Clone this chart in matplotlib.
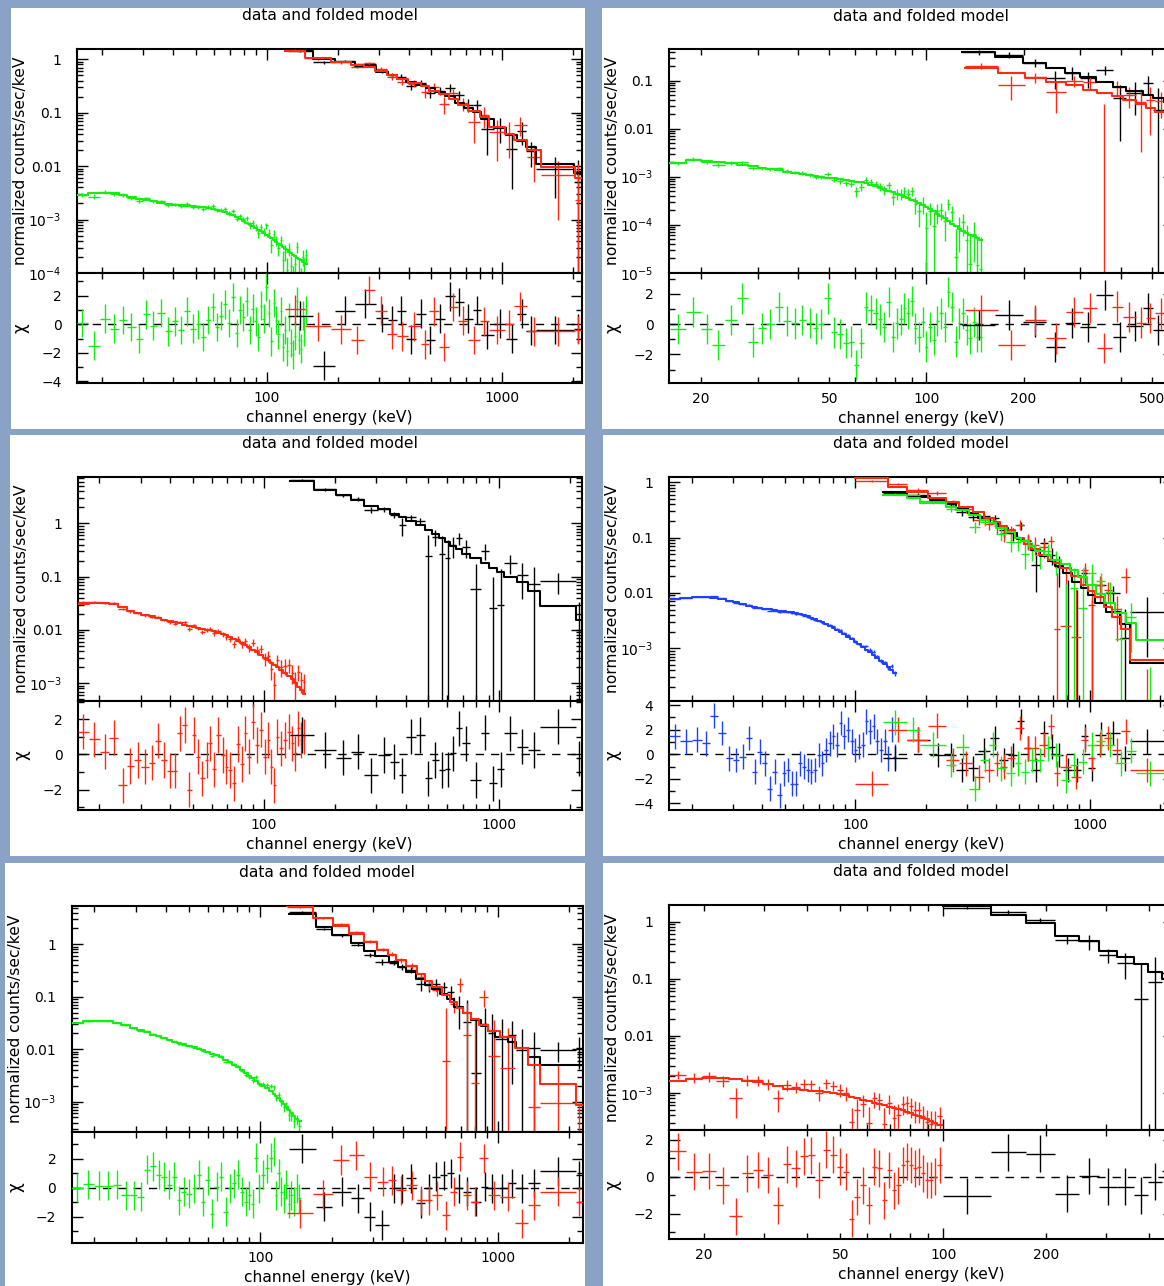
import numpy as np
import matplotlib
matplotlib.use("Agg")
import matplotlib.pyplot as plt
from matplotlib.collections import LineCollection
from matplotlib.patches import Rectangle
from matplotlib.ticker import (LogLocator, FuncFormatter, MultipleLocator,
                               NullFormatter)

# ---------------------------------------------------------------------------
# Spectral data: channel edges (keV), folded model (counts/s/keV),
# residuals in sigma (chi) and fractional 1-sigma error (sig = err / model)
# ---------------------------------------------------------------------------

# ----- panel 1 (top left) -----
tl_nai_edges = [15.7, 17.4, 19.6, 21.6, 23.6, 25.6, 27.9, 29.9, 31.9, 34.4, 37.0, 39.6, 42.0, 44.5,
                47.2, 50.0, 52.6, 55.2, 57.9, 60.5, 63.0, 65.6, 68.2, 70.7, 73.3, 75.8, 78.4, 81.0,
                83.5, 86.0, 88.5, 91.0, 93.5, 96.0, 98.5, 101.0, 103.5, 106.0, 108.5, 111.0, 113.5,
                116.0, 118.5, 121.0, 123.5, 126.0, 128.5, 131.0, 133.5, 136.0, 138.5, 141.0, 143.5,
                146.0, 148.5]
tl_nai_model = [2.9e-3, 3.1e-3, 3.2e-3, 3.1e-3, 2.85e-3, 2.6e-3, 2.45e-3, 2.35e-3, 2.2e-3, 2.05e-3,
                1.95e-3, 1.9e-3, 1.86e-3, 1.82e-3, 1.77e-3, 1.73e-3, 1.69e-3, 1.65e-3, 1.6e-3, 1.53e-3,
                1.45e-3, 1.37e-3, 1.29e-3, 1.2e-3, 1.12e-3, 1.03e-3, 9.5e-4, 8.8e-4, 8.2e-4, 7.6e-4,
                7.0e-4, 6.5e-4, 6.0e-4, 5.6e-4, 5.2e-4, 4.8e-4, 4.45e-4, 4.1e-4, 3.8e-4, 3.55e-4,
                3.3e-4, 3.05e-4, 2.85e-4, 2.65e-4, 2.48e-4, 2.32e-4, 2.18e-4, 2.05e-4, 1.93e-4,
                1.82e-4, 1.72e-4, 1.63e-4, 1.55e-4, 1.48e-4]
tl_nai_chi = [0.1, -1.5, 0.4, -0.3, 0.3, -0.2, -1.0, 0.7, -0.1, 0.8, -0.5, 0.2, -0.4, 0.9, -0.3, 0.0,
              -0.9, 0.3, 1.2, -0.2, 0.6, 1.4, 0.1, 1.9, -0.6, 1.0, 0.5, 1.6, -0.4, 1.1, 0.2, -0.9, 1.3,
              0.4, 2.6, 0.8, -1.2, 1.5, 0.3, -0.7, 0.9, -1.6, -0.4, -1.9, 0.5, -1.3, -2.1, -0.8, 1.6,
              -1.1, -1.7, 0.6, -0.5, 1.0]
tl_nai_sig = [0.09, 0.09, 0.08, 0.08, 0.08, 0.08, 0.08, 0.08, 0.08, 0.08, 0.08, 0.08, 0.08, 0.08,
              0.08, 0.08, 0.08, 0.09, 0.09, 0.09, 0.10, 0.10, 0.10, 0.11, 0.11, 0.12, 0.12, 0.13,
              0.13, 0.14, 0.15, 0.16, 0.17, 0.18, 0.19, 0.20, 0.21, 0.22, 0.23, 0.25, 0.26, 0.27,
              0.29, 0.30, 0.31, 0.33, 0.34, 0.35, 0.37, 0.38, 0.40, 0.41, 0.42, 0.44]

tl_b0_edges = [123.1, 157.1, 194.9, 236.7, 290.0, 326.9, 357.2, 390.0, 429.8, 473.6, 517.4, 570.1,
               628.3, 686.6, 750.3, 811.0, 917.8, 1038.6, 1155.5, 1264.3, 1393.5, 2012.0, 2155.0]
tl_b0_model = [1.42, 1.02, 0.88, 0.74, 0.59, 0.5, 0.43, 0.37, 0.33, 0.285, 0.24, 0.205, 0.155, 0.125,
               0.102, 0.075, 0.052, 0.038, 0.03, 0.023, 0.0112, 0.0075]
tl_b0_chi = [0.6, -2.9, 0.95, 1.45, 0.45, 0.3, 0.95, -1.05, 0.75, -1.1, 0.4, 1.95, 1.55, 0.4, 1.0,
             -0.75, 0.05, -1.0, 0.75, -0.45, -0.4, -0.3]
tl_b0_sig = [0.04, 0.05, 0.06, 0.07, 0.08, 0.10, 0.11, 0.13, 0.14, 0.16, 0.19, 0.22, 0.25, 0.3, 0.35,
             0.45, 0.5, 0.45, 0.7, 0.4, 0.55, 1.1]

tl_b1_edges = [119.6, 145.3, 187.3, 227.8, 258.6, 287.9, 323.8, 357.0, 397.4, 451.2, 487.9, 538.0,
               593.2, 647.7, 714.1, 802.9, 876.5, 1024.7, 1119.1, 1270.3, 1456.8, 2030.0, 2175.0]
tl_b1_model = [1.45, 1.05, 0.9, 0.79, 0.71, 0.6, 0.5, 0.42, 0.36, 0.31, 0.26, 0.225, 0.18, 0.14,
               0.11, 0.082, 0.055, 0.04, 0.031, 0.02, 0.0098, 0.0059]
tl_b1_chi = [1.05, -0.15, -0.35, -1.1, 2.4, 0.95, -0.7, -0.85, -0.15, -1.4, 0.9, -1.6, 1.2, 0.25,
             -1.1, 0.2, -0.4, 0.0, 1.25, -0.5, -0.5, -0.4]
tl_b1_sig = [0.04, 0.05, 0.06, 0.07, 0.08, 0.09, 0.1, 0.12, 0.14, 0.16, 0.19, 0.22, 0.26, 0.3, 0.36,
             0.45, 0.55, 0.65, 0.75, 0.5, 0.6, 1.5]

# ----- panel 2 (top right) -----
tr_nai_edges = [16.0, 18.0, 20.0, 21.7, 23.7, 25.8, 27.9, 30.0, 31.8, 33.9, 36.0, 38.1, 40.2, 42.4,
                44.6, 46.3, 48.3, 50.7, 53.0, 55.2, 57.4, 59.6, 61.7, 63.9, 66.1, 68.5, 71.0, 73.1,
                75.2, 77.5, 79.9, 82.2, 84.4, 86.6, 88.9, 91.3, 93.7, 96.2, 98.7, 101.3, 104.0,
                106.8, 109.6, 112.5, 115.5, 118.5, 121.6, 124.9, 128.2, 131.6, 135.0, 138.6, 142.2,
                145.7, 149.0]
tr_nai_model = [1.95e-3, 2.2e-3, 2.1e-3, 2.0e-3, 1.9e-3, 1.78e-3, 1.65e-3, 1.52e-3, 1.42e-3, 1.35e-3,
                1.28e-3, 1.22e-3, 1.15e-3, 1.08e-3, 1.03e-3, 9.9e-4, 9.5e-4, 9.2e-4, 8.9e-4, 8.6e-4,
                8.3e-4, 7.9e-4, 7.6e-4, 7.3e-4, 6.8e-4, 6.3e-4, 5.9e-4, 5.5e-4, 5.0e-4, 4.7e-4,
                4.4e-4, 4.1e-4, 3.8e-4, 3.55e-4, 3.3e-4, 3.05e-4, 2.8e-4, 2.55e-4, 2.3e-4, 2.1e-4,
                1.9e-4, 1.7e-4, 1.5e-4, 1.35e-4, 1.2e-4, 1.05e-4, 9.2e-5, 8.2e-5, 7.4e-5, 6.8e-5,
                6.2e-5, 5.7e-5, 5.2e-5, 4.8e-5]
tr_nai_chi = [-0.33, 0.81, -0.33, -1.38, 0.26, 1.69, -1.16, -0.29, 0.0, 1.14, 0.22, 0.04, 0.26, 0.09,
              -0.29, 0.0, 1.69, -0.55, -0.65, -1.27, -1.16, -2.7, -1.27, 1.1, 0.92, 0.7, 0.31, -0.18,
              1.47, -0.84, 0.04, 0.31, 1.03, 0.7, 1.54, -0.29, -0.84, 0.15, -1.49, -0.18, -1.05,
              0.22, 0.7, -0.18, 2.13, 1.14, -1.16, 0.04, 0.7, -0.4, -0.95, 0.15, -0.84, -0.84]
tr_nai_sig = [0.08, 0.08, 0.08, 0.08, 0.08, 0.08, 0.08, 0.08, 0.09, 0.09, 0.09, 0.09, 0.1, 0.1, 0.1,
              0.1, 0.11, 0.11, 0.12, 0.12, 0.13, 0.14, 0.15, 0.16, 0.17, 0.18, 0.19, 0.2, 0.22, 0.24,
              0.25, 0.27, 0.29, 0.31, 0.33, 0.35, 0.37, 0.4, 0.42, 0.45, 0.48, 0.5, 0.53, 0.56, 0.6,
              0.63, 0.66, 0.7, 0.73, 0.76, 0.8, 0.83, 0.86, 0.9]

tr_b0_edges = [129.3, 162.7, 199.1, 235.2, 268.1, 298.3, 336.0, 378.2, 416.2, 468.4, 502.9, 545.0,
               584.0]
tr_b0_model = [0.40, 0.316, 0.23, 0.18, 0.143, 0.12, 0.095, 0.075, 0.062, 0.05, 0.043, 0.036]
tr_b0_chi = [-0.05, 0.6, 0.15, -1.5, 0.05, -0.2, 1.9, -0.85, -0.15, 1.05, -0.4, 0.3]
tr_b0_sig = [0.12, 0.15, 0.2, 0.25, 0.3, 0.35, 0.4, 0.5, 0.6, 0.75, 1.1, 1.2]

tr_b1_edges = [131.4, 166.7, 201.5, 235.2, 271.3, 304.8, 337.1, 375.1, 405.3, 445.3, 478.2, 509.9,
               555.4]
tr_b1_model = [0.18, 0.143, 0.112, 0.095, 0.08, 0.065, 0.055, 0.047, 0.04, 0.032, 0.027, 0.0226]
tr_b1_chi = [0.95, -1.4, 0.25, -0.95, 0.8, 1.05, -1.6, 1.15, 0.45, 0.1, 0.4, 0.7]
tr_b1_sig = [0.15, 0.3, 0.25, 0.4, 0.3, 0.45, 0.7, 0.5, 0.6, 1.0, 1.2, 0.9]

# ----- panel 3 (middle left) -----
ml_nai_edges = [16.2, 18.1, 20.1, 22.1, 24.1, 26.2, 28.1, 30.2, 32.4, 34.6, 36.6, 38.7, 41.0, 42.9,
                45.0, 47.1, 49.3, 51.4, 53.7, 56.0, 58.2, 60.4, 62.9, 65.5, 68.1, 70.7, 73.3, 76.1,
                79.0, 82.0, 85.2, 88.4, 91.8, 95.3, 98.9, 102.7, 106.2, 109.0, 112.2, 116.2, 120.6,
                125.2, 130.1, 134.2, 138.0, 142.3, 146.3, 150.0]
ml_nai_model = [0.031, 0.032, 0.032, 0.031, 0.027, 0.023, 0.021, 0.0195, 0.018, 0.0167, 0.0157,
                0.0147, 0.014, 0.0133, 0.0126, 0.012, 0.0114, 0.0109, 0.0105, 0.0102, 0.0099, 0.0094,
                0.0089, 0.0084, 0.0079, 0.0074, 0.0068, 0.0063, 0.0058, 0.0053, 0.0048, 0.0043,
                0.0038, 0.0034, 0.003, 0.0027, 0.0024, 0.0022, 0.0020, 0.00178, 0.00158, 0.00138,
                0.00118, 0.00101, 0.00087, 0.00074, 0.00063]
ml_nai_chi = [1.29, 0.85, 0.15, 0.95, -1.75, -0.66, -0.32, -0.7, -0.47, 0.78, -0.32, -0.93, -0.93,
              1.2, 1.67, -2.0, 1.1, -0.13, -1.37, -0.32, 0.63, -0.85, 1.1, -0.04, -0.7, -0.89, -1.65,
              0.59, -0.55, 1.2, -0.13, 1.86, 0.53, 1.39, -0.13, 0.82, -0.7, -1.75, 1.0, 0.34, 0.82,
              1.29, 0.63, 0.06, 1.48, 0.82, 1.0]
ml_nai_sig = [0.05, 0.05, 0.05, 0.05, 0.05, 0.05, 0.05, 0.05, 0.05, 0.06, 0.06, 0.06, 0.06, 0.06,
              0.07, 0.07, 0.07, 0.07, 0.08, 0.08, 0.08, 0.09, 0.09, 0.1, 0.1, 0.11, 0.12, 0.13, 0.14,
              0.15, 0.17, 0.19, 0.21, 0.23, 0.25, 0.28, 0.3, 0.33, 0.36, 0.4, 0.44, 0.48, 0.52, 0.56,
              0.6, 0.65, 0.7]

ml_bgo_edges = [128.6, 164.1, 202.2, 234.9, 267.3, 305.0, 343.0, 374.6, 401.1, 442.3, 483.0, 517.2,
                553.9, 587.4, 619.8, 657.3, 693.6, 753.9, 835.3, 907.8, 981.5, 1045.9, 1187.8,
                1322.7, 1482.0, 2116.0, 2239.0]
ml_bgo_model = [6.2, 4.3, 3.4, 2.8, 2.1, 1.83, 1.5, 1.3, 1.12, 0.92, 0.75, 0.62, 0.54, 0.45, 0.38,
                0.33, 0.27, 0.22, 0.178, 0.148, 0.125, 0.1, 0.078, 0.055, 0.028, 0.0153]
ml_bgo_chi = [1.1, 0.25, -0.19, 0.15, -1.18, -0.04, -0.42, -1.18, 1.0, 1.1, -1.37, -0.32, -0.89,
              -0.85, 0.06, 1.48, 0.63, -1.46, 1.23, -1.65, -0.85, 1.2, 0.44, 0.25, 1.57, -0.23]
ml_bgo_sig = [0.05, 0.06, 0.07, 0.08, 0.12, 0.1, 0.12, 0.25, 0.15, 0.18, 0.49, 0.3, 0.56, 0.6, 0.45,
              0.4, 0.5, 0.5, 0.6, 0.5, 0.9, 0.7, 0.9, 1.4, 1.25, 1.5]

# ----- panel 4 (middle right) -----
mr_nai_edges = [16.0, 17.9, 20.0, 22.1, 24.0, 26.0, 28.0, 29.9, 32.0, 34.1, 36.2, 38.2, 40.1, 42.1,
                44.2, 46.4, 48.5, 50.5, 52.5, 54.6, 57.0, 59.3, 61.5, 63.7, 66.1, 68.5, 71.0, 73.6,
                76.3, 79.1, 82.0, 85.0, 88.1, 91.4, 94.7, 98.2, 101.8, 105.5, 109.5, 113.4, 117.5,
                121.8, 126.3, 131.0, 135.8, 140.7, 145.4, 149.5]
mr_nai_model = [7.6e-3, 8.0e-3, 8.3e-3, 8.3e-3, 8.1e-3, 7.7e-3, 7.2e-3, 6.7e-3, 6.3e-3, 5.9e-3,
                5.6e-3, 5.4e-3, 5.2e-3, 5.05e-3, 4.9e-3, 4.8e-3, 4.7e-3, 4.6e-3, 4.5e-3, 4.35e-3,
                4.15e-3, 3.95e-3, 3.75e-3, 3.55e-3, 3.35e-3, 3.15e-3, 2.95e-3, 2.75e-3, 2.55e-3,
                2.35e-3, 2.15e-3, 1.95e-3, 1.77e-3, 1.6e-3, 1.44e-3, 1.3e-3, 1.17e-3, 1.05e-3,
                9.4e-4, 8.4e-4, 7.5e-4, 6.6e-4, 5.8e-4, 5.1e-4, 4.5e-4, 4.0e-4, 3.6e-4]
mr_nai_chi = [1.45, 1.04, 1.18, 0.9, 3.15, 1.73, -0.33, -0.47, -0.19, 1.32, -1.42, 0.22, -0.74,
              -2.79, -1.42, -3.34, -1.56, -1.29, -2.38, -2.38, -0.74, -1.01, -1.29, -1.42, -1.29,
              -0.05, -0.74, 0.36, 0.9, 1.45, 0.77, 2.55, 1.45, 2.0, 1.04, 0.36, 0.63, 0.77, 2.68,
              1.86, 2.27, 1.04, 0.36, 1.04, -0.33, 2.0, -0.19]
mr_nai_sig = [0.02, 0.02, 0.02, 0.02, 0.02, 0.02, 0.02, 0.02, 0.02, 0.02, 0.02, 0.02, 0.02, 0.02,
              0.02, 0.02, 0.02, 0.02, 0.02, 0.025, 0.025, 0.025, 0.025, 0.025, 0.03, 0.03, 0.03,
              0.03, 0.035, 0.035, 0.035, 0.04, 0.04, 0.045, 0.045, 0.05, 0.05, 0.055, 0.06, 0.065,
              0.07, 0.075, 0.08, 0.085, 0.09, 0.1, 0.11]

mr_b0_edges = [130.9, 165.4, 208.2, 243.8, 268.9, 302.5, 333.8, 375.6, 410.4, 448.4, 489.8, 524.8,
               562.2, 614.3, 664.4, 711.9, 770.0, 841.2, 918.9, 984.5, 1054.6, 1174.9, 1348.3,
               1487.9, 2078.0, 2286.0]
mr_b0_model = [0.66, 0.55, 0.47, 0.4, 0.34, 0.28, 0.23, 0.18, 0.15, 0.12, 0.095, 0.075, 0.06, 0.047,
               0.038, 0.03, 0.023, 0.016, 0.012, 0.009, 0.0065, 0.0045, 0.0027, 0.00054, 0.00054]
mr_b0_chi = [-0.33, 1.18, -0.05, -0.05, -1.29, -1.15, 0.3, 1.32, -0.47, -0.05, 2.68, 0.49, -1.29,
             1.73, 0.63, -0.05, -1.29, -1.29, 1.45, -1.15, 1.59, 1.73, -0.33, 1.04, 0.0]
mr_b0_sig = [0.05, 0.07, 0.09, 0.1, 0.12, 0.14, 0.16, 0.19, 0.22, 0.25, 0.28, 0.32, 0.36, 0.4, 0.45,
             0.55, 0.9, 1.0, 0.6, 1.1, 0.7, 0.7, 1.3, 7.0, 1.0]

mr_b1_edges = [100.0, 138.2, 166.1, 204.2, 243.8, 277.0, 317.8, 354.1, 390.7, 414.4, 443.9, 480.3,
               524.8, 562.2, 608.1, 664.4, 704.7, 747.5, 832.9, 918.9, 984.5, 1054.6, 1151.9,
               1246.0, 1361.7, 1487.9, 2078.0, 2286.0]
mr_b1_model = [1.18, 0.83, 0.66, 0.52, 0.44, 0.36, 0.29, 0.23, 0.19, 0.165, 0.135, 0.1, 0.075,
               0.062, 0.048, 0.04, 0.035, 0.028, 0.02, 0.014, 0.011, 0.0085, 0.0055, 0.0037, 0.0022,
               0.00061, 0.00061]
mr_b1_chi = [-2.38, 2.0, 1.18, 2.33, -0.47, -0.74, -1.84, -1.29, -0.74, -1.01, -0.33, 2.14, 0.49,
             0.49, 0.77, 2.27, -1.56, -1.01, -1.84, 1.18, -0.33, 0.77, 1.32, 0.36, 1.86, -1.29, 0.0]
mr_b1_sig = [0.04, 0.06, 0.08, 0.1, 0.12, 0.13, 0.15, 0.18, 0.22, 0.25, 0.3, 0.33, 0.38, 0.42, 0.5,
             0.5, 0.6, 0.9, 0.5, 0.7, 1.4, 0.8, 0.8, 1.0, 4.2, 1.1, 1.0]

mr_b2_edges = [130.9, 165.4, 188.7, 243.8, 268.9, 305.5, 340.4, 371.9, 398.5, 439.6, 480.3, 509.5,
               551.3, 584.7, 638.8, 684.3, 755.0, 824.8, 892.2, 975.0, 1065.1, 1163.5, 1283.6,
               1430.3, 1578.6, 2078.0, 2286.0]
mr_b2_model = [0.59, 0.51, 0.42, 0.36, 0.31, 0.26, 0.21, 0.18, 0.15, 0.125, 0.1, 0.085, 0.07, 0.058,
               0.048, 0.04, 0.033, 0.026, 0.019, 0.014, 0.0095, 0.0065, 0.0043, 0.0028, 0.0014,
               0.0014]
mr_b2_chi = [2.6, 2.0, 0.77, -0.88, 0.63, -2.79, -0.47, 0.77, -1.15, -1.56, -0.74, -1.42, -0.47,
             -0.47, 0.49, -0.05, -2.11, -0.88, -0.6, 0.77, 1.04, 0.77, -0.74, 0.3, -1.56, 0.0]
mr_b2_sig = [0.05, 0.07, 0.09, 0.1, 0.12, 0.14, 0.16, 0.18, 0.2, 0.22, 0.25, 0.28, 0.32, 0.36, 0.4,
             0.45, 0.5, 0.6, 1.2, 0.8, 0.7, 0.8, 0.9, 1.0, 1.2, 1.0]

# ----- panel 5 (bottom left) -----
bl_nai_edges = [16.0, 17.9, 19.9, 21.9, 23.9, 26.0, 28.3, 30.4, 32.4, 34.4, 36.4, 38.3, 40.3, 42.4,
                44.4, 46.5, 48.9, 51.5, 54.0, 56.2, 58.6, 61.4, 64.1, 66.9, 70.0, 73.0, 76.0, 79.1,
                82.1, 85.3, 88.5, 91.5, 94.2, 97.4, 101.2, 105.0, 109.0, 112.7, 115.6, 118.2, 121.1,
                124.3, 127.4, 130.4, 133.8, 137.1, 140.5, 144.2, 148.0]
bl_nai_model = [0.032, 0.034, 0.035, 0.034, 0.032, 0.029, 0.0255, 0.023, 0.021, 0.0188, 0.0175,
                0.0163, 0.0148, 0.0138, 0.0131, 0.0124, 0.0115, 0.0108, 0.0102, 0.0095, 0.0088,
                0.0082, 0.0076, 0.007, 0.0063, 0.0057, 0.0051, 0.0045, 0.004, 0.0035, 0.0031,
                0.0028, 0.0025, 0.0022, 0.0020, 0.0018, 0.0016, 0.00142, 0.00128, 0.00116, 0.00103,
                0.00091, 0.0008, 0.0007, 0.00061, 0.00053, 0.00047, 0.00042]
bl_nai_chi = [0.0, 0.23, 0.12, 0.12, 0.19, -0.51, -0.51, -0.63, 1.23, 1.47, 0.88, 0.77, 0.19, 0.77,
              -0.86, -0.28, -0.4, -0.05, 0.88, -0.98, 0.53, -1.79, 0.07, 0.77, -1.67, -0.05, 0.3,
              0.88, -0.28, -0.98, -0.51, -1.09, 2.05, -0.05, 0.88, 1.35, 2.05, 2.51, -0.51, 1.0,
              -0.28, -0.74, 0.19, -1.09, -0.51, -0.98, -0.05, -0.74]
bl_nai_sig = [0.03, 0.03, 0.03, 0.03, 0.03, 0.03, 0.03, 0.03, 0.03, 0.03, 0.03, 0.03, 0.03, 0.035,
              0.035, 0.035, 0.035, 0.04, 0.04, 0.04, 0.04, 0.045, 0.045, 0.05, 0.05, 0.055, 0.06,
              0.065, 0.07, 0.075, 0.08, 0.085, 0.09, 0.095, 0.1, 0.11, 0.12, 0.13, 0.14, 0.15, 0.16,
              0.17, 0.18, 0.19, 0.2, 0.21, 0.22, 0.24]

bl_b0_edges = [132.3, 171.0, 200.7, 241.3, 274.6, 304.6, 349.0, 380.8, 411.5, 453.5, 495.0, 529.7,
               572.6, 612.9, 655.8, 715.4, 773.2, 852.1, 912.6, 976.1, 1107.6, 1196.6, 1345.9,
               1504.6, 2141.8, 2280.0]
bl_b0_model = [3.78, 2.1, 1.5, 1.04, 0.75, 0.6, 0.45, 0.37, 0.3, 0.22, 0.17, 0.14, 0.115, 0.09,
               0.065, 0.048, 0.036, 0.028, 0.022, 0.017, 0.0135, 0.0105, 0.0072, 0.005, 0.005]
bl_b0_chi = [2.67, -1.31, -0.28, -0.74, -2.0, -2.57, -0.05, -0.05, 0.64, -1.08, -0.05, 0.76, 0.87,
             0.99, -0.05, -0.28, -0.97, 0.07, -0.05, -0.05, 0.3, -0.05, 0.3, 1.15, 0.87]
bl_b0_sig = [0.04, 0.05, 0.06, 0.07, 0.08, 0.09, 0.1, 0.12, 0.14, 0.2, 0.25, 0.3, 0.35, 0.4, 0.6,
             1.1, 0.93, 1.1, 1.2, 1.3, 1.2, 1.4, 1.5, 0.8, 1.3]

bl_b1_edges = [129.7, 166.9, 202.7, 236.7, 272.8, 310.6, 346.9, 373.6, 411.5, 458.0, 495.0, 529.7,
               583.6, 630.6, 677.0, 715.4, 773.2, 835.6, 912.6, 1024.5, 1184.8, 1345.9, 1504.6,
               2141.8, 2280.0]
bl_b1_model = [5.3, 3.2, 2.23, 1.57, 1.09, 0.78, 0.63, 0.5, 0.38, 0.27, 0.2, 0.15, 0.11, 0.08, 0.06,
               0.048, 0.038, 0.029, 0.022, 0.0174, 0.0107, 0.005, 0.00216, 0.00087]
bl_b1_chi = [-1.77, -0.46, 1.91, 2.25, 0.76, 0.41, 0.53, -0.16, 0.18, -0.85, -0.85, -0.51, -1.89,
             -0.28, 2.14, -0.51, -0.97, 2.02, -0.51, -0.62, -2.46, -1.2, -0.28, -0.97]
bl_b1_sig = [0.03, 0.04, 0.05, 0.05, 0.06, 0.07, 0.08, 0.1, 0.12, 0.14, 0.17, 0.2, 0.5, 0.3, 0.9,
             1.2, 0.97, 1.2, 1.3, 1.2, 0.75, 0.7, 2.0, 1.2]

# ----- panel 6 (bottom right) -----
br_nai_edges = [15.8, 17.7, 19.7, 21.6, 23.7, 25.8, 27.7, 29.7, 31.7, 33.9, 36.0, 38.1, 40.2, 42.2,
                44.4, 46.6, 48.9, 51.0, 53.0, 55.0, 57.1, 59.4, 61.8, 64.0, 66.2, 68.5, 70.6, 72.8,
                75.1, 77.2, 79.2, 81.4, 83.6, 86.0, 88.4, 90.8, 93.3, 96.0, 99.5]
br_nai_model = [1.6e-3, 1.75e-3, 1.82e-3, 1.8e-3, 1.72e-3, 1.63e-3, 1.52e-3, 1.42e-3, 1.3e-3,
                1.18e-3, 1.15e-3, 1.12e-3, 1.09e-3, 1.06e-3, 1.03e-3, 1.0e-3, 9.6e-4, 9.1e-4,
                8.5e-4, 8.0e-4, 7.6e-4, 7.1e-4, 6.6e-4, 6.3e-4, 6.0e-4, 5.7e-4, 5.4e-4, 5.2e-4,
                4.9e-4, 4.65e-4, 4.4e-4, 4.1e-4, 3.85e-4, 3.6e-4, 3.4e-4, 3.2e-4, 3.0e-4, 2.75e-4]
br_nai_chi = [1.38, 0.28, 0.31, -0.46, -2.15, 0.18, 0.37, 0.09, -1.56, 0.68, 0.46, 1.1, 1.16, -0.18,
              1.47, 1.19, 0.55, 0.28, -2.29, -1.1, -0.46, -1.56, 0.55, 0.46, -1.28, 0.37, -0.73,
              -0.46, 0.64, 0.83, 0.64, 0.46, 0.55, 0.18, -0.18, -0.18, 0.0, 0.64]
br_nai_sig = [0.2, 0.2, 0.2, 0.2, 0.25, 0.22, 0.22, 0.22, 0.25, 0.25, 0.25, 0.25, 0.26, 0.27, 0.28,
              0.28, 0.3, 0.3, 0.28, 0.35, 0.35, 0.37, 0.38, 0.4, 0.42, 0.42, 0.45, 0.45, 0.47, 0.48,
              0.5, 0.5, 0.52, 0.54, 0.56, 0.58, 0.6, 0.62]

br_bgo_edges = [100.0, 137.8, 174.2, 212.1, 248.8, 285.1, 322.5, 360.4, 397.9, 435.5, 473.0]
br_bgo_model = [1.85, 1.3, 0.95, 0.55, 0.45, 0.3, 0.24, 0.18, 0.13, 0.1]
br_bgo_chi = [-1.05, 1.32, 1.25, -0.92, 0.04, -0.55, -0.55, -1.0, -0.28, 0.3]
br_bgo_sig = [0.05, 0.09, 0.1, 0.14, 0.3, 0.24, 0.38, 0.76, 1.2, 0.8]

# ---------------------------------------------------------------------------
# Styling
# ---------------------------------------------------------------------------
W, H = 1164, 1286
plt.rcParams['font.family'] = ['DejaVu Sans']
plt.rcParams['mathtext.fontset'] = 'dejavusans'
FS = 11.2          # titles and axis labels
TICK_FS = 10.0     # tick labels
GREEN = '#12ee12'
RED = '#ff2a12'
BLUE = '#2040ff'
BLACK = '#000000'
BACKGROUND = '#8ba2c7'
LW_DATA = 1.0
LW_MODEL = 1.5

fig = plt.figure(figsize=(W / 100, H / 100), dpi=100)
fig.patch.set_facecolor(BACKGROUND)


def fig_rect(x0, y0, x1, y1):
    """Pixel box (origin top-left) -> figure fraction [l, b, w, h]."""
    return [x0 / W, 1 - y1 / H, (x1 - x0) / W, (y1 - y0) / H]


def white_box(x0, y0, x1, y1):
    l, b, w, h = fig_rect(x0, y0, x1, y1)
    fig.add_artist(Rectangle((l, b), w, h, transform=fig.transFigure,
                             facecolor='white', edgecolor='none', zorder=-5))


def log_label(v, pos):
    if v >= 0.01:
        return f'{v:g}'
    return r'$10^{%d}$' % int(round(np.log10(v)))


def draw_group(ax, rx, edges, model, chi, sig, color):
    e = np.asarray(edges, float)
    m = np.asarray(model, float)
    c = np.asarray(chi, float)
    s = np.asarray(sig, float)
    lo, hi = e[:-1], e[1:]
    mid = np.sqrt(lo * hi)
    err = s * m
    flux = m + c * err
    floor = ax.get_ylim()[0] * 1e-3
    segs = []
    for l, h, x, f, d in zip(lo, hi, mid, flux, err):
        if f > 0:
            segs.append([(l, f), (h, f)])
        if f + d > 0:
            segs.append([(x, max(f - d, floor)), (x, f + d)])
    ax.add_collection(LineCollection(segs, colors=color, linewidths=LW_DATA, zorder=3))
    ax.step(e, np.append(m, m[-1]), where='post', color=color, lw=LW_MODEL, zorder=4)
    rsegs = []
    for l, h, x, v in zip(lo, hi, mid, c):
        rsegs.append([(l, v), (h, v)])
        rsegs.append([(x, v - 1), (x, v + 1)])
    rx.add_collection(LineCollection(rsegs, colors=color, linewidths=LW_DATA, zorder=3))


def panel(box, frame, xlim, ylim, rlim, groups, narrow):
    white_box(*box)
    x0, x1, yt, ys, yb = frame
    ax = fig.add_axes(fig_rect(x0, yt, x1, ys))
    rx = fig.add_axes(fig_rect(x0, ys, x1, yb))
    for a in (ax, rx):
        a.set_xscale('log')
        a.set_xlim(*xlim)
        for sp in a.spines.values():
            sp.set_linewidth(1.5)
        a.tick_params(which='both', direction='in', top=True, right=True,
                      labelsize=TICK_FS, width=1.0)
        a.tick_params(which='major', length=8)
        a.tick_params(which='minor', length=4)
        a.xaxis.set_major_locator(LogLocator(base=10, numticks=20))
        a.xaxis.set_minor_locator(LogLocator(base=10, subs=np.arange(2, 10), numticks=50))
    ax.set_yscale('log')
    ax.set_ylim(*ylim)
    rx.set_ylim(*rlim)

    ax.yaxis.set_major_locator(LogLocator(base=10, numticks=20))
    ax.yaxis.set_minor_locator(LogLocator(base=10, subs=np.arange(2, 10), numticks=50))
    ax.yaxis.set_major_formatter(FuncFormatter(log_label))
    ax.yaxis.set_minor_formatter(NullFormatter())
    ax.tick_params(axis='x', which='both', labelbottom=False)
    ax.tick_params(axis='y', which='both', pad=11)

    rx.yaxis.set_major_locator(MultipleLocator(2))
    rx.yaxis.set_minor_locator(MultipleLocator(1))
    rx.tick_params(axis='y', which='both', pad=11)
    rx.tick_params(axis='x', which='both', pad=6)
    rx.xaxis.set_major_formatter(FuncFormatter(lambda v, p: f'{v:g}'))
    if narrow:
        def minor_lab(v, p):
            lead = int(round(v / 10 ** np.floor(np.log10(v) + 1e-9)))
            return f'{int(round(v))}' if lead in (2, 5) else ''
        rx.xaxis.set_minor_formatter(FuncFormatter(minor_lab))
    else:
        rx.xaxis.set_minor_formatter(NullFormatter())

    rx.axhline(0, color=BLACK, lw=1.0, dashes=(6, 5), zorder=1)
    for g in groups:
        draw_group(ax, rx, *g)
    ax.set_ylim(*ylim)
    rx.set_ylim(*rlim)

    cx = (x0 + x1) / 2 / W
    fig.text(cx, 1 - (yt - 33) / H, 'data and folded model', ha='center', va='center', fontsize=FS)
    fig.text(cx, 1 - (yb + 35) / H, 'channel energy (keV)', ha='center', va='center', fontsize=FS)
    fig.text((x0 - 56) / W, 1 - (yt + ys) / 2 / H, 'normalized counts/sec/keV', rotation=90,
             ha='center', va='center', fontsize=FS)
    fig.text((x0 - 56) / W, 1 - (ys + yb) / 2 / H, 'χ', rotation=90,
             ha='center', va='center', fontsize=FS + 1)


panel((11, 8, 585, 429), (77, 582, 49, 273, 383), (15.7, 2175), (1e-4, 1.56), (-4.11, 3.59),
      [(tl_nai_edges, tl_nai_model, tl_nai_chi, tl_nai_sig, GREEN),
       (tl_b0_edges, tl_b0_model, tl_b0_chi, tl_b0_sig, BLACK),
       (tl_b1_edges, tl_b1_model, tl_b1_chi, tl_b1_sig, RED)], narrow=False)

panel((602, 8, 1190, 429), (668.7, 1173.7, 49.3, 272.7, 383.3), (15.9, 584), (1e-5, 0.45),
      (-3.91, 3.39),
      [(tr_nai_edges, tr_nai_model, tr_nai_chi, tr_nai_sig, GREEN),
       (tr_b0_edges, tr_b0_model, tr_b0_chi, tr_b0_sig, BLACK),
       (tr_b1_edges, tr_b1_model, tr_b1_chi, tr_b1_sig, RED)], narrow=True)

panel((10, 435, 585, 856), (77.7, 581.7, 476.7, 701, 810), (16.2, 2239), (4.66e-4, 7.5),
      (-3.16, 3.03),
      [(ml_nai_edges, ml_nai_model, ml_nai_chi, ml_nai_sig, RED),
       (ml_bgo_edges, ml_bgo_model, ml_bgo_chi, ml_bgo_sig, BLACK)], narrow=False)

panel((603, 435, 1190, 856), (668.7, 1173.7, 476.7, 701, 810), (15.96, 2285), (1.11e-4, 1.26),
      (-4.53, 4.33),
      [(mr_nai_edges, mr_nai_model, mr_nai_chi, mr_nai_sig, BLUE),
       (mr_b0_edges, mr_b0_model, mr_b0_chi, mr_b0_sig, BLACK),
       (mr_b1_edges, mr_b1_model, mr_b1_chi, mr_b1_sig, RED),
       (mr_b2_edges, mr_b2_model, mr_b2_chi, mr_b2_sig, GREEN)], narrow=False)

panel((5, 863, 585, 1300), (71.6, 582.5, 905.7, 1131.7, 1242.7), (16.04, 2280), (2.68e-4, 5.43),
      (-3.79, 3.86),
      [(bl_nai_edges, bl_nai_model, bl_nai_chi, bl_nai_sig, GREEN),
       (bl_b0_edges, bl_b0_model, bl_b0_chi, bl_b0_sig, BLACK),
       (bl_b1_edges, bl_b1_model, bl_b1_chi, bl_b1_sig, RED)], narrow=False)

panel((603, 863, 1190, 1300), (668.7, 1173.7, 905, 1130, 1239.3), (15.75, 472), (2.22e-4, 1.96),
      (-3.40, 2.54),
      [(br_nai_edges, br_nai_model, br_nai_chi, br_nai_sig, RED),
       (br_bgo_edges, br_bgo_model, br_bgo_chi, br_bgo_sig, BLACK)], narrow=True)

fig.savefig('out.png', dpi=100, facecolor=fig.get_facecolor())
